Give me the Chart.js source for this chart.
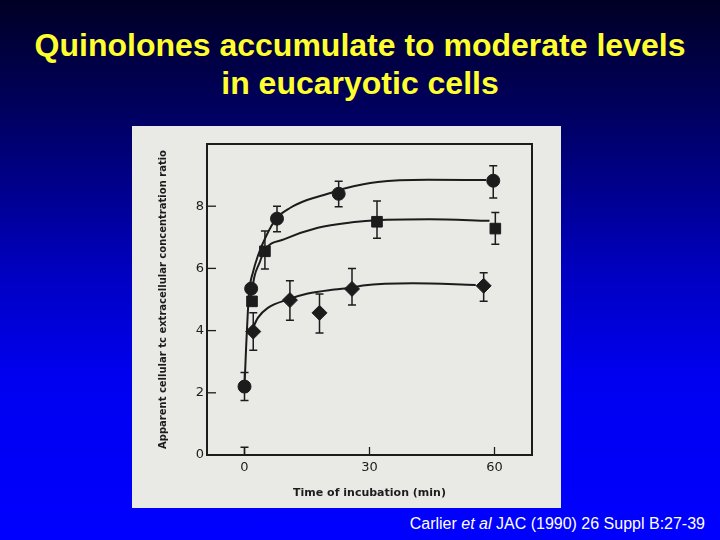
<!DOCTYPE html>
<html>
<head>
<meta charset="utf-8">
<script src="https://cdn.jsdelivr.net/npm/chart.js@4.4.1/dist/chart.umd.min.js"></script>
<style>
    html, body {
        margin: 0;
        padding: 0;
    }
    body {
        width: 720px;
        height: 540px;
        position: relative;
        overflow: hidden;
        background: linear-gradient(to bottom, #000024 0%, #00006c 25%, #0000c0 50%, #0000f0 70%, #0000ff 100%);
        font-family: "Liberation Sans", Arial, sans-serif;
    }
    .title {
        position: absolute;
        left: 0;
        top: 26px;
        width: 720px;
        text-align: center;
        color: #ffff2e;
        font-weight: bold;
        font-size: 32px;
        line-height: 38px;
    }
    .panel {
        position: absolute;
        left: 132px;
        top: 126px;
        width: 429px;
        height: 382px;
        background: #e9e9e6;
    }
    .cite {
        position: absolute;
        right: 15px;
        top: 515px;
        color: #ffffff;
        font-size: 16px;
    }
</style>
</head>
<body>
<div class="title">Quinolones accumulate to moderate levels<br>in eucaryotic cells</div>
<div class="panel"><canvas id="uptakeChart"></canvas></div>
<div class="cite">Carlier <i>et al</i> JAC (1990) 26 Suppl B:27-39</div>

<script>
// Measured points (time in min, ratio) with error bar ends
const circleTime = [0, 1.6, 7.8, 22.6, 59.7];
const circleRatio = [2.2, 5.35, 7.6, 8.4, 8.82];
const circleLow = [1.75, 5.35, 7.18, 7.98, 8.26];
const circleHigh = [2.65, 5.35, 8.0, 8.8, 9.3];

const squareTime = [1.8, 4.9, 31.8, 60.2];
const squareRatio = [4.94, 6.55, 7.5, 7.28];
const squareLow = [4.94, 5.98, 6.97, 6.78];
const squareHigh = [4.94, 7.2, 8.17, 7.8];

const diamondTime = [2.1, 10.9, 18.0, 25.8, 57.4];
const diamondRatio = [3.97, 4.98, 4.57, 5.34, 5.44];
const diamondLow = [3.37, 4.33, 3.92, 4.82, 4.94];
const diamondHigh = [4.57, 5.6, 5.18, 6.0, 5.86];

// control value at time 0
const baseTime = [0];
const baseRatio = [0];
const baseLow = [0];
const baseHigh = [0.25];

// fitted curves
const circleCurveX = [0, 0.4, 0.8, 1.2, 2, 3.2, 5.2, 7.6, 11, 15, 20, 24, 32, 44, 58];
const circleCurveY = [2.2, 3.5, 4.6, 5.35, 5.86, 6.4, 7.04, 7.6, 7.95, 8.2, 8.4, 8.57, 8.78, 8.85, 8.84];
const squareCurveX = [1.4, 2.4, 3.6, 4.8, 9.6, 17.6, 26.4, 31.7, 44.4, 58.8];
const squareCurveY = [4.95, 5.75, 6.18, 6.58, 6.94, 7.31, 7.49, 7.55, 7.58, 7.53];
const diamondCurveX = [1.7, 3.2, 5.6, 10.4, 15.2, 21.6, 25.6, 28.4, 40.4, 55.5];
const diamondCurveY = [3.98, 4.41, 4.73, 5.0, 5.19, 5.32, 5.38, 5.45, 5.52, 5.47];

const xTicks = [0, 30, 60];
const yTicks = [0, 2, 4, 6, 8];

const ink = '#1c1c1c';

function pairs(xs, ys) {
    return xs.map((x, i) => ({ x: x, y: ys[i] }));
}

function curve(xs, ys) {
    return {
        type: 'line',
        data: pairs(xs, ys),
        borderColor: ink,
        borderWidth: 2,
        pointRadius: 0,
        cubicInterpolationMode: 'monotone',
        fill: false,
        order: 2
    };
}

function markers(xs, ys, lo, hi, style, radius) {
    return {
        type: 'scatter',
        data: pairs(xs, ys),
        errLow: lo,
        errHigh: hi,
        showLine: false,
        pointStyle: style,
        pointRadius: radius,
        backgroundColor: ink,
        borderColor: ink,
        borderWidth: 1,
        order: 1
    };
}

// error bars, inside ticks and the frame
const figureMarks = {
    id: 'figureMarks',
    afterDatasetsDraw(chart) {
        const ctx = chart.ctx;
        const xs = chart.scales.x;
        const ys = chart.scales.y;
        const area = chart.chartArea;
        ctx.save();
        ctx.strokeStyle = ink;
        ctx.lineWidth = 1.5;

        chart.data.datasets.forEach((ds) => {
            if (!ds.errLow) return;
            ds.data.forEach((pt, i) => {
                const px = xs.getPixelForValue(pt.x);
                const top = ys.getPixelForValue(ds.errHigh[i]);
                const bot = ys.getPixelForValue(ds.errLow[i]);
                if (Math.abs(bot - top) < 1) return;
                ctx.beginPath();
                ctx.moveTo(px, top);
                ctx.lineTo(px, bot);
                if (ds.errHigh[i] > pt.y) {
                    ctx.moveTo(px - 4, top);
                    ctx.lineTo(px + 4, top);
                }
                if (ds.errLow[i] < pt.y) {
                    ctx.moveTo(px - 4, bot);
                    ctx.lineTo(px + 4, bot);
                }
                ctx.stroke();
            });
        });

        ctx.lineWidth = 1.3;
        xTicks.forEach((v) => {
            const px = xs.getPixelForValue(v);
            ctx.beginPath();
            ctx.moveTo(px, area.bottom);
            ctx.lineTo(px, area.bottom - 8);
            ctx.stroke();
        });
        yTicks.forEach((v) => {
            const py = ys.getPixelForValue(v);
            ctx.beginPath();
            ctx.moveTo(area.left, py);
            ctx.lineTo(area.left + 9, py);
            ctx.stroke();
        });

        ctx.lineWidth = 2;
        ctx.strokeRect(area.left, area.top, area.right - area.left, area.bottom - area.top);
        ctx.restore();
    }
};

new Chart(document.getElementById('uptakeChart'), {
    data: {
        datasets: [
            curve(circleCurveX, circleCurveY),
            curve(squareCurveX, squareCurveY),
            curve(diamondCurveX, diamondCurveY),
            markers(circleTime, circleRatio, circleLow, circleHigh, 'circle', 6.5),
            markers(squareTime, squareRatio, squareLow, squareHigh, 'rect', 7.5),
            markers(diamondTime, diamondRatio, diamondLow, diamondHigh, 'rectRot', 7.5),
            markers(baseTime, baseRatio, baseLow, baseHigh, 'circle', 0)
        ]
    },
    options: {
        responsive: true,
        maintainAspectRatio: false,
        animation: false,
        layout: { padding: { top: 18, right: 29, left: 0, bottom: 0 } },
        plugins: {
            legend: { display: false },
            tooltip: { enabled: false }
        },
        scales: {
            x: {
                type: 'linear',
                min: -9,
                max: 69,
                afterBuildTicks: (scale) => { scale.ticks = xTicks.map(v => ({ value: v })); },
                afterFit: (scale) => { scale.height = 53; },
                grid: { display: false, drawTicks: false },
                border: { display: false },
                ticks: {
                    color: ink,
                    padding: 5,
                    font: { family: 'DejaVu Sans', size: 13 }
                },
                title: {
                    display: true,
                    text: 'Time of incubation (min)',
                    color: ink,
                    padding: { top: 0, bottom: 8 },
                    font: { family: 'DejaVu Sans', size: 11, weight: 'bold' }
                }
            },
            y: {
                type: 'linear',
                min: 0,
                max: 10,
                afterBuildTicks: (scale) => { scale.ticks = yTicks.map(v => ({ value: v })); },
                afterFit: (scale) => { scale.width = 75; },
                grid: { display: false, drawTicks: false },
                border: { display: false },
                ticks: {
                    color: ink,
                    padding: 3,
                    font: { family: 'DejaVu Sans', size: 13 }
                },
                title: {
                    display: true,
                    text: 'Apparent cellular tc extracellular concentration ratio',
                    color: ink,
                    padding: { top: 25, bottom: 0 },
                    font: { family: 'DejaVu Sans', size: 10, weight: 'bold' }
                }
            }
        }
    },
    plugins: [figureMarks]
});
</script>
</body>
</html>
